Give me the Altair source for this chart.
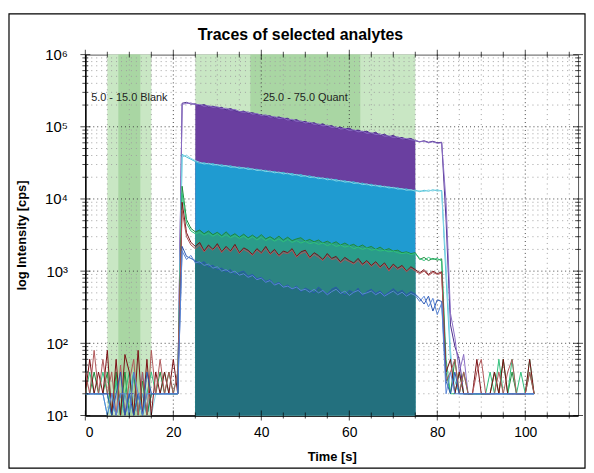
import altair as alt
import pandas as pd

W, H = 497, 364
FONT = "Liberation Sans"
TITLE = "Traces of selected analytes"

# time axis: 1 s sampling, 0 .. 102 s
TIME = list(range(0, 103))

# ---------------- purple analyte ----------------
PURPLE_A_PRE = [20, 20, 20, 20, 20, 20, 20, 10, 20, 10, 20, 20, 10, 40, 10, 20, 20, 20, 20, 20, 20, 20]
PURPLE_A_MAIN_K = [212, 218, 206, 208, 197, 203, 189, 193, 184, 186,
                   172, 179, 168, 161, 165, 154, 157, 149, 146, 141,
                   142, 133, 137, 130, 131, 121, 126, 116, 119, 111,
                   114, 106, 110, 101, 104, 95, 99, 93, 96, 88,
                   90, 85, 87, 80, 84, 76, 79, 73, 76, 70,
                   71, 67, 69, 64, 62, 64, 61, 63, 60, 61]
PURPLE_A_POST = [5000, 180, 90, 60, 20, 20, 20, 20, 20, 20, 20, 20, 20, 20, 20, 20, 20, 20, 20, 20, 20]

PURPLE_B_PRE = [20, 20, 20, 20, 20, 20, 20, 20, 10, 20, 20, 10, 20, 20, 10, 20, 20, 20, 20, 20, 20, 20]
PURPLE_B_MAIN_K = [205, 210, 214, 201, 204, 192, 197, 186, 190, 178,
                   181, 170, 174, 163, 159, 161, 150, 153, 143, 147,
                   136, 139, 130, 133, 124, 127, 119, 121, 113, 116,
                   108, 110, 103, 105, 98, 100, 93, 95, 89, 91,
                   85, 87, 81, 83, 78, 80, 74, 75, 71, 73,
                   68, 69, 66, 65, 62, 63, 60, 62, 59, 60]
PURPLE_B_POST = [9000, 260, 120, 40, 70, 20, 20, 20, 20, 20, 20, 20, 20, 20, 20, 20, 20, 20, 20, 20, 20]

# ---------------- cyan analyte ----------------
CYAN_A_PRE = [20, 20, 20, 20, 20, 10, 20, 10, 20, 10, 20, 40, 10, 20, 10, 20, 20, 20, 20, 20, 20, 20]
CYAN_A_MAIN_K = [41.5, 38.0, 35.5, 33.0, 31.0, 31.8, 30.2, 30.9, 29.0, 29.8,
                 28.2, 28.9, 27.1, 27.8, 26.3, 27.0, 25.4, 25.9, 24.5, 25.0,
                 23.5, 24.1, 22.8, 23.4, 22.0, 22.6, 21.2, 21.8, 20.4, 20.9,
                 19.6, 20.0, 18.9, 19.4, 18.2, 18.7, 17.5, 17.9, 16.9, 17.3,
                 16.2, 16.6, 15.6, 16.0, 15.0, 15.4, 14.5, 14.8, 14.0, 14.3,
                 13.5, 13.8, 13.0, 13.3, 12.6, 13.2, 12.8, 13.4, 12.9, 13.1]
CYAN_A_POST = [800, 60, 30, 20, 20, 20, 20, 20, 20, 20, 20, 20, 20, 20, 20, 20, 20, 20, 20, 20, 20]

CYAN_B_PRE = [20, 20, 20, 20, 20, 20, 10, 20, 10, 20, 10, 20, 10, 40, 20, 10, 20, 20, 20, 20, 20, 20]
CYAN_B_MAIN_K = [38.0, 40.5, 36.5, 34.0, 32.2, 30.5, 31.2, 29.5, 30.1, 28.4,
                 29.1, 27.5, 28.0, 26.6, 27.2, 25.7, 26.2, 24.8, 25.3, 23.9,
                 24.4, 23.0, 23.6, 22.2, 22.8, 21.4, 21.9, 20.6, 21.1, 19.8,
                 20.3, 19.1, 19.6, 18.4, 18.9, 17.7, 18.1, 17.1, 17.5, 16.4,
                 16.8, 15.8, 16.2, 15.2, 15.6, 14.7, 15.0, 14.2, 14.5, 13.7,
                 13.9, 13.2, 13.5, 12.8, 13.0, 12.7, 13.3, 12.9, 13.5, 12.8]
CYAN_B_POST = [1200, 80, 20, 40, 20, 20, 20, 20, 20, 20, 20, 20, 20, 20, 20, 20, 20, 20, 20, 20, 20]

# ---------------- green analyte ----------------
GREEN_A_PRE = [20, 20, 40, 20, 20, 40, 10, 40, 10, 40, 10, 40, 10, 30, 10, 20, 20, 40, 20, 40, 20, 20]
GREEN_A_MAIN = [15000, 5200, 3900, 3500, 3700, 3300, 3600, 3200, 3450, 3100,
                3500, 3050, 3300, 2950, 3250, 2900, 3150, 2850, 3200, 2800,
                3000, 2750, 3050, 2700, 2950, 2650, 2800, 2900, 2600, 2750,
                2550, 2700, 2450, 2600, 2400, 2550, 2300, 2450, 2250, 2350,
                2150, 2300, 2100, 2200, 2000, 2150, 1950, 2050, 1900, 1950,
                1800, 1850, 1750, 1800, 1450, 1550, 1400, 1500, 1420, 1480]
GREEN_A_POST = [40, 20, 60, 20, 40, 20, 20, 20, 20, 20, 20, 40, 20, 60, 20, 40, 20, 20, 20, 40, 20]

GREEN_B_PRE = [20, 40, 20, 20, 40, 20, 10, 30, 10, 20, 40, 10, 20, 10, 20, 40, 20, 20, 40, 20, 20, 40]
GREEN_B_MAIN = [12000, 4600, 3600, 3300, 3450, 3150, 3350, 3050, 3300, 2950,
                3200, 2900, 3100, 2850, 3050, 2750, 3000, 2700, 2950, 2650,
                2850, 2600, 2800, 2550, 2750, 2500, 2650, 2450, 2600, 2400,
                2500, 2350, 2450, 2250, 2400, 2200, 2300, 2150, 2250, 2050,
                2150, 2000, 2100, 1950, 2000, 1900, 1950, 1850, 1900, 1800,
                1750, 1800, 1700, 1750, 1500, 1400, 1550, 1450, 1500, 1380]
GREEN_B_POST = [60, 20, 20, 40, 20, 20, 20, 20, 20, 20, 40, 20, 60, 20, 20, 60, 20, 40, 20, 60, 20]

# ---------------- dark red analyte ----------------
RED_A_PRE = [20, 60, 20, 40, 20, 80, 10, 60, 10, 70, 40, 10, 80, 10, 60, 10, 40, 20, 40, 20, 60, 20]
RED_A_MAIN = [9000, 3400, 2500, 2200, 2500, 1900, 2300, 2000, 2400, 1850,
              2200, 1900, 2350, 1800, 2100, 1950, 1700, 2050, 1800, 2200,
              1750, 2000, 1650, 1900, 1800, 2050, 1600, 1850, 1950, 1550,
              1800, 1650, 1450, 1750, 1500, 1600, 1350, 1550, 1400, 1300,
              1500, 1250, 1400, 1200, 1350, 1150, 1300, 1050, 1250, 1100,
              1200, 1000, 1150, 1050, 950, 1050, 900, 1000, 920, 980]
RED_A_POST = [40, 60, 20, 40, 20, 20, 20, 60, 20, 20, 20, 40, 20, 60, 20, 20, 20, 20, 20, 60, 20]

RED_B_PRE = [40, 20, 80, 20, 60, 20, 40, 10, 50, 10, 30, 60, 10, 40, 10, 80, 20, 60, 20, 40, 20, 40]
RED_B_MAIN = [7000, 3000, 2300, 2050, 2300, 1850, 2150, 1950, 2250, 1800,
              2100, 1850, 2200, 1750, 2000, 1850, 1650, 1950, 1750, 2050,
              1700, 1900, 1600, 1800, 1750, 1950, 1550, 1750, 1850, 1500,
              1700, 1550, 1400, 1650, 1450, 1500, 1300, 1450, 1350, 1250,
              1400, 1200, 1350, 1150, 1300, 1100, 1250, 1000, 1200, 1050,
              1150, 980, 1100, 1000, 920, 1000, 870, 960, 900, 940]
RED_B_POST = [30, 40, 60, 20, 40, 20, 20, 40, 60, 20, 20, 20, 40, 20, 40, 60, 20, 20, 20, 40, 20]

# ---------------- blue analyte ----------------
BLUE_A_PRE = [20, 20, 20, 20, 20, 20, 10, 20, 40, 10, 20, 10, 20, 10, 40, 20, 20, 20, 20, 20, 20, 20]
BLUE_A_MAIN = [2200, 1600, 1500, 1400, 1250, 1350, 1150, 1200, 1050, 1100,
               980, 1050, 900, 950, 1000, 850, 900, 780, 820, 720,
               760, 650, 700, 600, 640, 560, 620, 520, 580, 540,
               500, 600, 530, 480, 560, 600, 520, 470, 540, 500,
               580, 450, 520, 560, 490, 530, 460, 510, 570, 500,
               540, 470, 520, 480, 420, 350, 450, 280, 400, 380]
BLUE_A_POST = [30, 20, 40, 20, 20, 20, 20, 20, 20, 20, 20, 20, 20, 20, 20, 20, 20, 20, 20, 20, 20]

BLUE_B_PRE = [20, 20, 20, 20, 20, 10, 20, 10, 20, 20, 10, 40, 20, 10, 20, 20, 20, 20, 20, 20, 20, 20]
BLUE_B_MAIN = [1900, 1450, 1650, 1300, 1350, 1200, 1250, 1100, 1150, 1000,
               1050, 950, 1000, 880, 920, 820, 870, 760, 800, 700,
               740, 640, 680, 600, 620, 570, 600, 540, 560, 510,
               560, 500, 540, 470, 520, 560, 490, 530, 460, 510,
               540, 480, 500, 530, 470, 510, 450, 490, 530, 470,
               510, 450, 490, 460, 380, 450, 320, 420, 250, 360]
BLUE_B_POST = [20, 40, 20, 20, 20, 20, 20, 20, 20, 20, 20, 20, 20, 20, 20, 20, 20, 20, 20, 20, 20]

# trace name, line colour, values
TRACES = [
    ("Purple A", "#4a2a8c", PURPLE_A_PRE + [v * 1000 for v in PURPLE_A_MAIN_K] + PURPLE_A_POST),
    ("Purple B", "#8a6cc4", PURPLE_B_PRE + [v * 1000 for v in PURPLE_B_MAIN_K] + PURPLE_B_POST),
    ("Cyan A", "#46c0d6", CYAN_A_PRE + [v * 1000 for v in CYAN_A_MAIN_K] + CYAN_A_POST),
    ("Cyan B", "#86d6e6", CYAN_B_PRE + [v * 1000 for v in CYAN_B_MAIN_K] + CYAN_B_POST),
    ("Green A", "#1d8a3a", GREEN_A_PRE + GREEN_A_MAIN + GREEN_A_POST),
    ("Green B", "#30c07a", GREEN_B_PRE + GREEN_B_MAIN + GREEN_B_POST),
    ("Red A", "#7a0f14", RED_A_PRE + RED_A_MAIN + RED_A_POST),
    ("Red B", "#b0585a", RED_B_PRE + RED_B_MAIN + RED_B_POST),
    ("Blue A", "#2855b0", BLUE_A_PRE + BLUE_A_MAIN + BLUE_A_POST),
    ("Blue B", "#5a86d6", BLUE_B_PRE + BLUE_B_MAIN + BLUE_B_POST),
]

# integration-window fill colours (drawn under the traces)
FILLS = [("Purple A", "#6a3fa0"), ("Cyan A", "#1f9bd1"), ("Green A", "#2a9c8a"),
         ("Red A", "#2c8582"), ("Blue A", "#23707e")]
QUANT = (25, 75)

# shaded windows
SHADE_X0 = [5, 7.5, 25, 37.5]
SHADE_X1 = [15, 12.5, 75, 62.5]
SHADE_COL = ["#c9e7c4", "#a9d6a3", "#c9e7c4", "#a9d6a3"]

REGION_T = [10, 50]
REGION_V = [2.5e5, 2.5e5]
REGION_LABEL = ["5.0 - 15.0 Blank", "25.0 - 75.0 Quant"]

MAJOR_X = [20, 40, 60, 80, 100]
MINOR_X = [5, 10, 15, 25, 30, 35, 45, 50, 55, 65, 70, 75, 85, 90, 95, 105, 110]
MAJOR_Y = [100, 1000, 10000, 100000]
MINOR_Y = [k * 10 ** d for d in range(1, 6) for k in range(2, 10)]
X_TICKS = list(range(0, 115, 5))
DECADES = [10, 100, 1000, 10000, 100000, 1000000]
Y_TICKS = DECADES + MINOR_Y

rows = []
for name, col, vals in TRACES:
    assert len(vals) == len(TIME), (name, len(vals))
    for t, v in zip(TIME, vals):
        rows.append({"t": t, "v": v, "trace": name, "base": 10})
df = pd.DataFrame(rows)

x_scale = alt.Scale(domain=[0, 112], nice=False, zero=False)
y_scale = alt.Scale(type="log", domain=[10, 1e6], nice=False)

y_label = ("datum.value == 10 ? '10\u00b9' : datum.value == 100 ? '10\u00b2' : "
           "datum.value == 1000 ? '10\u00b3' : datum.value == 10000 ? '10\u2074' : "
           "datum.value == 100000 ? '10\u2075' : '10\u2076'")

x_axis = alt.Axis(values=[0, 20, 40, 60, 80, 100], ticks=False, grid=False,
                  domainColor="black", domainWidth=1.5, labelFont=FONT, labelFontSize=14,
                  labelColor="black", labelPadding=10, title="Time [s]", titleFont=FONT,
                  titleFontSize=13, titleFontWeight="bold", titleColor="black",
                  titleY=41, titleBaseline="middle")
y_axis = alt.Axis(values=DECADES, ticks=False, grid=False,
                  domainColor="black", domainWidth=1.5, labelExpr=y_label, labelFont=FONT,
                  labelFontSize=15, labelColor="black", labelPadding=18,
                  title="log Intensity [cps]", titleFont=FONT, titleFontSize=13,
                  titleFontWeight="bold", titleColor="black", titleX=-64, titleY=H / 2,
                  titleAngle=270, titleAlign="center", titleBaseline="middle")


def X(field):
    return alt.X(field, scale=x_scale, axis=x_axis)


def Y(field):
    return alt.Y(field, scale=y_scale, axis=y_axis)


layers = []

shade_df = pd.DataFrame({"x0": SHADE_X0, "x1": SHADE_X1, "top": [1e6] * 4,
                         "bot": [10] * 4, "c": SHADE_COL})
layers.append(alt.Chart(shade_df).mark_rect().encode(
    x=X("x0:Q"), x2="x1:Q", y=Y("top:Q"), y2="bot:Q",
    color=alt.Color("c:N", scale=None)))

# grid
layers.append(alt.Chart(pd.DataFrame({"x": MINOR_X})).mark_rule(
    color="#a0a0a0", strokeDash=[1, 4], strokeWidth=1).encode(x=X("x:Q")))
layers.append(alt.Chart(pd.DataFrame({"y": MINOR_Y})).mark_rule(
    color="#a0a0a0", strokeDash=[1, 4], strokeWidth=1).encode(y=Y("y:Q")))
layers.append(alt.Chart(pd.DataFrame({"x": MAJOR_X})).mark_rule(
    color="#444444", strokeDash=[1, 3], strokeWidth=1).encode(x=X("x:Q")))
layers.append(alt.Chart(pd.DataFrame({"y": MAJOR_Y})).mark_rule(
    color="#444444", strokeDash=[1, 3], strokeWidth=1).encode(y=Y("y:Q")))

# integration fills
for name, col in FILLS:
    sub = df[(df.trace == name) & (df.t >= QUANT[0]) & (df.t <= QUANT[1])]
    layers.append(alt.Chart(sub).mark_area(color=col, opacity=1, clip=True).encode(
        x=X("t:Q"), y=Y("v:Q"), y2="base:Q"))

# traces
for name, col, _ in TRACES:
    sub = df[df.trace == name]
    layers.append(alt.Chart(sub).mark_line(color=col, strokeWidth=1, clip=True).encode(
        x=X("t:Q"), y=Y("v:Q")))

# region labels
layers.append(alt.Chart(pd.DataFrame({"t": REGION_T, "v": REGION_V, "l": REGION_LABEL}))
              .mark_text(font=FONT, fontSize=11, color="#222222").encode(
    x=X("t:Q"), y=Y("v:Q"), text="l:N"))

# ticks crossing the frame on all four sides
xt = pd.DataFrame([{"x": x, "y": yy, "s": 10 if x % 20 == 0 else 6}
                   for x in X_TICKS for yy in (10, 1e6)])
yt = pd.DataFrame([{"y": y, "x": xx, "s": 10 if y in DECADES else 6}
                   for y in Y_TICKS for xx in (0, 112)])
layers.append(alt.Chart(xt).mark_tick(orient="vertical", color="black", thickness=1).encode(
    x=X("x:Q"), y=Y("y:Q"), size=alt.Size("s:Q", scale=None)))
layers.append(alt.Chart(yt).mark_tick(orient="horizontal", color="black", thickness=1).encode(
    x=X("x:Q"), y=Y("y:Q"), size=alt.Size("s:Q", scale=None)))

# chart title (centred on the figure frame) and outer figure frame
layers.append(alt.Chart(pd.DataFrame({"l": [TITLE]})).mark_text(
    font=FONT, fontSize=16, fontWeight="bold", color="black", align="center",
    baseline="alphabetic", clip=False).encode(
    x=alt.value(217), y=alt.value(-15), text="l:N"))
layers.append(alt.Chart(pd.DataFrame({"a": [0]})).mark_rect(
    fillOpacity=0, stroke="black", strokeWidth=1.2, clip=False).encode(
    x=alt.value(-77), x2=alt.value(504), y=alt.value(-41), y2=alt.value(417)))

chart = alt.layer(*layers).properties(
    width=W, height=H,
    autosize=alt.AutoSizeParams(type="none"),
    padding={"left": 78, "top": 45, "right": 8, "bottom": 56},
).configure_view(stroke="#555555", strokeWidth=1)

chart.save("out.html", embed_options={"renderer": "svg", "actions": False})
